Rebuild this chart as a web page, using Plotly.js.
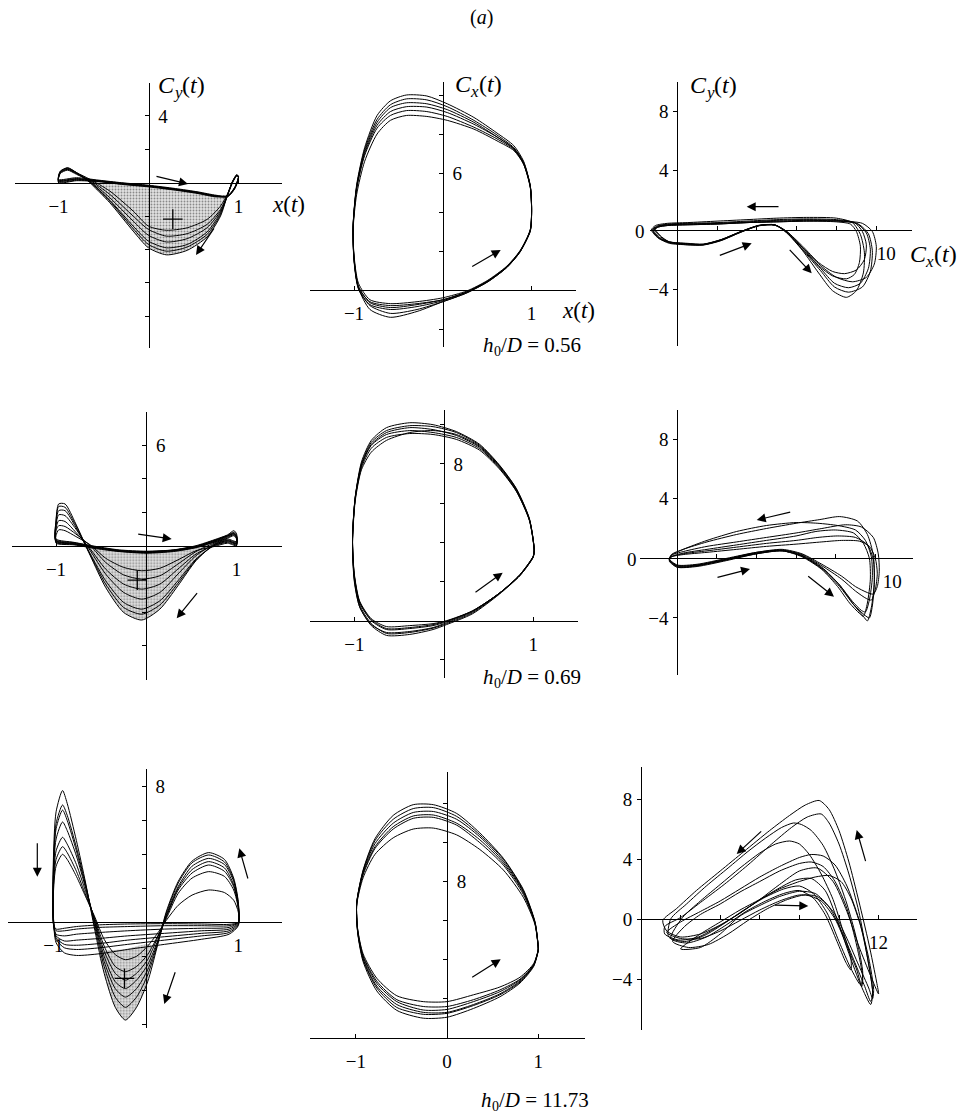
<!DOCTYPE html>
<html><head><meta charset="utf-8">
<script src="https://cdn.plot.ly/plotly-3.0.1.min.js"></script>
<style>html,body{margin:0;padding:0;background:#fff;}#chart{width:959px;height:1115px;}</style>
</head><body><div id="chart"></div>
<script>
// ================= DATA =================
// Row 1 (h0/D = 0.56) — panel 1: Cy(t) vs x(t)
const p1X = [-1.0,-0.8,-0.55,-0.3,0.0,0.3,0.55,0.75,0.88,0.96,1.0,0.98,0.93,0.88,0.8,0.65,0.43,0.2,0.0,-0.17,-0.43,-0.65,-0.8,-0.9,-0.98,-1.0];
const p1Y = [
 [0.1,0.2,0.1,-0.05,-0.2,-0.4,-0.6,-0.8,-0.8,-0.3,0.35,0.45,0.0,-0.7,-2.0,-3.25,-4.05,-4.32,-3.9,-2.9,-1.2,0.0,0.6,0.9,0.65,0.1],
 [0.05,0.15,0.08,-0.08,-0.22,-0.42,-0.62,-0.82,-0.78,-0.25,0.4,0.42,-0.05,-0.75,-1.8,-2.95,-3.7,-3.9,-3.5,-2.6,-1.05,0.05,0.55,0.8,0.6,0.05],
 [0.15,0.25,0.12,-0.02,-0.18,-0.38,-0.58,-0.78,-0.82,-0.35,0.3,0.4,0.0,-0.72,-1.7,-2.7,-3.35,-3.55,-3.15,-2.3,-0.9,0.1,0.5,0.75,0.55,0.15],
 [0.0,0.12,0.06,-0.1,-0.25,-0.45,-0.65,-0.85,-0.8,-0.3,0.38,0.48,0.05,-0.7,-1.6,-2.5,-3.05,-3.2,-2.8,-2.0,-0.7,0.15,0.55,0.8,0.6,0.0],
 [0.2,0.3,0.15,0.0,-0.15,-0.35,-0.55,-0.75,-0.8,-0.28,0.32,0.44,0.02,-0.65,-1.4,-2.2,-2.7,-2.85,-2.6,-1.7,-0.5,0.2,0.6,0.85,0.7,0.2],
 [0.12,0.22,0.1,-0.04,-0.2,-0.4,-0.6,-0.8,-0.85,-0.32,0.36,0.46,0.02,-0.68,-1.9,-3.1,-3.85,-4.1,-3.7,-2.75,-1.1,0.05,0.6,0.88,0.66,0.12]
];
const p1ShadeX = [-0.65,-0.55,-0.3,0.0,0.3,0.55,0.75,0.86,0.8,0.65,0.43,0.2,0.0,-0.17,-0.43,-0.65];
const p1ShadeY = [0.0,0.05,-0.08,-0.22,-0.42,-0.62,-0.82,-0.75,-2.0,-3.25,-4.05,-4.32,-3.9,-2.9,-1.2,0.0];

// panel 2: Cx(t) vs x(t)
const p2X = [1.0,0.985,0.91,0.8,0.61,0.35,0.05,-0.18,-0.41,-0.59,-0.74,-0.88,-0.97,-1.01,-1.0,-0.95,-0.82,-0.59,-0.29,0.0,0.27,0.5,0.72,0.87,0.985,1.0];
const p2Y = [
 [4.1,5.35,6.6,7.4,8.05,8.85,9.55,9.95,10.0,9.7,8.95,7.3,5.4,3.3,1.6,0.1,-1.0,-1.4,-1.1,-0.6,-0.15,0.4,1.15,1.95,3.05,4.1],
 [4.0,5.25,6.45,7.25,7.85,8.6,9.25,9.55,9.6,9.35,8.6,7.1,5.3,3.3,1.7,0.2,-0.65,-0.9,-0.75,-0.5,-0.1,0.45,1.2,2.0,3.0,4.0],
 [4.2,5.35,6.5,7.2,7.75,8.35,8.9,9.15,9.2,8.95,8.3,6.9,5.2,3.3,1.8,0.35,-0.5,-0.7,-0.6,-0.4,-0.05,0.48,1.22,2.02,3.1,4.2],
 [4.1,5.3,6.45,7.15,7.65,8.25,8.7,8.9,8.95,8.7,8.0,6.6,4.9,3.1,1.5,0.05,-0.75,-1.0,-0.85,-0.55,-0.1,0.4,1.15,1.95,3.05,4.1],
 [4.05,5.3,6.55,7.3,7.95,8.7,9.4,9.75,9.8,9.5,8.75,7.2,5.3,3.2,1.6,0.15,-0.6,-0.8,-0.7,-0.5,-0.1,0.44,1.18,1.98,3.08,4.05],
 [4.1,5.3,6.5,7.25,7.85,8.5,9.1,9.38,9.4,9.15,8.45,7.0,5.2,3.2,1.6,0.1,-0.8,-1.2,-1.0,-0.6,-0.15,0.42,1.16,1.97,3.06,4.1]
];

// panel 3: Cy(t) vs Cx(t)
const p3X = [
 [-1.3,-1.0,-0.4,0.5,1.3,2.2,3.2,4.1,4.9,5.5,6.3,7.1,7.8,8.5,9.0,9.35,9.4,9.2,8.8,8.0,6.5,5.0,3.5,2.0,0.5,-0.5,-1.1,-1.3],
 [-1.2,-0.9,-0.4,0.5,1.3,2.2,3.2,4.1,4.9,5.5,6.3,7.2,7.9,8.6,9.2,9.6,9.7,9.5,9.0,8.0,6.5,5.0,3.5,2.0,0.5,-0.5,-1.0,-1.2],
 [-1.1,-0.8,-0.4,0.5,1.3,2.2,3.2,4.1,4.9,5.5,6.3,7.2,8.0,8.8,9.5,9.9,10.0,9.8,9.3,8.2,6.5,5.0,3.5,2.0,0.5,-0.5,-0.95,-1.1],
 [-1.2,-0.9,-0.4,0.5,1.3,2.2,3.2,4.1,4.9,5.5,6.3,7.1,7.8,8.4,9.0,9.4,9.5,9.3,8.9,8.0,6.5,5.0,3.5,2.0,0.5,-0.5,-1.0,-1.2],
 [-1.25,-0.95,-0.4,0.5,1.3,2.2,3.2,4.1,4.9,5.5,6.3,7.2,7.9,8.6,9.3,9.7,9.8,9.6,9.1,8.1,6.5,5.0,3.5,2.0,0.5,-0.5,-1.05,-1.25],
 [-1.15,-0.85,-0.4,0.5,1.3,2.2,3.2,4.1,4.9,5.5,6.3,7.1,7.8,8.5,8.9,9.15,9.2,9.0,8.7,8.0,6.5,5.0,3.5,2.0,0.5,-0.5,-0.95,-1.15]
];
const p3Y = [
 [0.0,-0.5,-0.85,-1.0,-1.0,-0.7,-0.15,0.3,0.35,-0.2,-1.4,-2.9,-4.1,-4.55,-4.1,-2.9,-1.5,-0.3,0.5,0.8,0.85,0.8,0.7,0.6,0.5,0.45,0.3,0.0],
 [-0.1,-0.55,-0.85,-0.95,-1.0,-0.68,-0.12,0.3,0.35,-0.15,-1.3,-2.6,-3.6,-3.9,-3.6,-2.6,-1.3,-0.2,0.45,0.65,0.7,0.65,0.55,0.45,0.4,0.35,0.2,-0.1],
 [0.05,-0.45,-0.8,-0.95,-0.98,-0.65,-0.1,0.3,0.32,-0.1,-1.2,-2.4,-3.2,-3.5,-3.2,-2.3,-1.1,-0.1,0.45,0.6,0.6,0.55,0.5,0.4,0.35,0.3,0.2,0.05],
 [0.0,-0.5,-0.8,-0.9,-0.95,-0.65,-0.1,0.32,0.35,-0.1,-1.1,-2.2,-2.8,-2.95,-2.7,-2.0,-1.0,-0.1,0.5,0.7,0.75,0.7,0.6,0.5,0.45,0.4,0.25,0.0],
 [0.0,-0.55,-0.9,-1.0,-1.02,-0.72,-0.14,0.28,0.34,-0.18,-1.35,-2.75,-3.85,-4.2,-3.85,-2.8,-1.4,-0.25,0.4,0.6,0.65,0.6,0.5,0.45,0.4,0.35,0.25,0.0],
 [0.05,-0.45,-0.8,-0.92,-0.97,-0.66,-0.12,0.3,0.33,-0.12,-1.2,-2.4,-3.1,-3.3,-3.0,-2.2,-1.1,-0.1,0.4,0.55,0.6,0.55,0.5,0.4,0.35,0.3,0.2,0.05]
];

// Row 2 (h0/D = 0.69) — panel 4: Cy(t) vs x(t)
const p4X = [-1.0,-0.8,-0.55,-0.3,0.0,0.3,0.55,0.75,0.9,0.97,1.0,1.0,0.9,0.75,0.55,0.35,0.15,-0.05,-0.25,-0.45,-0.62,-0.78,-0.9,-0.97,-1.0,-1.0];
const p4Y = [
 [0.3,0.15,-0.1,-0.3,-0.38,-0.28,-0.05,0.3,0.6,0.75,0.55,0.15,0.3,0.05,-0.9,-2.4,-3.8,-4.45,-4.0,-2.5,-0.6,1.3,2.5,2.5,1.5,0.3],
 [0.25,0.1,-0.12,-0.32,-0.4,-0.3,-0.08,0.25,0.55,0.7,0.5,0.1,0.25,0.0,-0.8,-2.1,-3.3,-3.8,-3.4,-2.1,-0.5,1.1,2.1,2.1,1.3,0.25],
 [0.35,0.18,-0.08,-0.28,-0.35,-0.26,-0.03,0.32,0.62,0.8,0.6,0.2,0.35,0.1,-0.6,-1.7,-2.8,-3.2,-2.8,-1.7,-0.3,1.0,1.8,1.85,1.2,0.35],
 [0.2,0.08,-0.15,-0.33,-0.42,-0.32,-0.1,0.22,0.5,0.65,0.45,0.05,0.2,0.0,-0.5,-1.4,-2.3,-2.6,-2.3,-1.4,-0.2,0.8,1.45,1.5,1.0,0.2],
 [0.4,0.2,-0.05,-0.25,-0.33,-0.25,0.0,0.35,0.65,0.9,0.7,0.25,0.4,0.15,-0.35,-1.1,-1.8,-2.0,-1.75,-1.0,0.0,0.7,1.15,1.2,0.9,0.4],
 [0.15,0.05,-0.18,-0.35,-0.45,-0.35,-0.12,0.2,0.45,0.6,0.4,0.0,0.15,-0.05,-0.3,-0.85,-1.35,-1.5,-1.3,-0.75,0.05,0.55,0.9,0.95,0.6,0.15],
 [0.3,0.12,-0.1,-0.3,-0.37,-0.27,-0.05,0.28,0.58,0.72,0.52,0.12,0.3,0.05,-0.85,-2.25,-3.55,-4.1,-3.7,-2.3,-0.55,1.2,2.3,2.35,1.45,0.3]
];
const p4ShadeX = [-0.68,-0.55,-0.3,0.0,0.3,0.55,0.7,0.55,0.35,0.15,-0.05,-0.25,-0.45,-0.62,-0.68];
const p4ShadeY = [0.0,-0.1,-0.3,-0.38,-0.28,-0.05,0.05,-0.9,-2.4,-3.8,-4.45,-4.0,-2.5,-0.6,0.0];

// panel 5: Cx(t) vs x(t)
const p5X = [1.01,0.957,0.81,0.62,0.40,0.14,-0.12,-0.38,-0.64,-0.81,-0.92,-0.99,-1.02,-1.0,-0.94,-0.81,-0.64,-0.38,-0.12,0.03,0.32,0.62,0.85,1.0,1.01];
const p5Y = [
 [3.6,5.2,6.75,7.95,9.0,9.65,10.0,10.1,9.85,9.2,8.1,6.3,4.0,2.1,0.7,-0.25,-0.75,-0.7,-0.45,-0.2,0.35,1.35,2.3,3.25,3.6],
 [3.65,5.15,6.65,7.85,8.85,9.45,9.75,9.85,9.6,9.0,7.95,6.3,4.2,2.3,0.95,0.0,-0.45,-0.4,-0.25,-0.05,0.5,1.4,2.35,3.3,3.65],
 [3.55,5.1,6.6,7.75,8.7,9.25,9.5,9.55,9.35,8.8,7.8,6.2,4.2,2.4,1.0,0.1,-0.3,-0.25,-0.15,0.0,0.5,1.4,2.3,3.25,3.55],
 [3.6,5.15,6.7,7.9,8.9,9.5,9.7,9.6,9.2,8.6,7.7,6.1,3.9,2.0,0.7,-0.2,-0.6,-0.55,-0.35,-0.1,0.45,1.4,2.35,3.3,3.6],
 [3.62,5.18,6.72,7.92,8.95,9.6,9.9,9.95,9.7,9.1,8.0,6.25,4.05,2.2,0.8,-0.15,-0.65,-0.6,-0.38,-0.15,0.4,1.38,2.32,3.28,3.62],
 [3.58,5.12,6.62,7.8,8.78,9.35,9.6,9.7,9.5,8.95,7.9,6.25,4.15,2.3,0.9,0.05,-0.4,-0.35,-0.2,-0.02,0.48,1.4,2.32,3.27,3.58]
];

// panel 6: Cy(t) vs Cx(t)
const p6X = [
 [-0.4,0.0,1.0,2.5,4.0,5.3,6.3,7.3,8.2,8.9,9.4,9.6,9.8,9.95,9.9,9.6,9.1,8.2,7.2,6.0,4.5,3.0,1.5,0.3,-0.3,-0.4],
 [-0.4,0.0,1.0,2.5,4.0,5.3,6.3,7.3,8.2,8.85,9.3,9.5,9.7,9.85,9.8,9.5,9.0,8.1,7.1,6.0,4.5,3.0,1.5,0.3,-0.3,-0.4],
 [-0.4,0.0,1.0,2.5,4.0,5.3,6.3,7.3,8.3,9.0,9.6,9.9,10.1,10.2,10.15,9.9,9.3,8.5,7.3,6.0,4.5,3.0,1.5,0.3,-0.3,-0.4],
 [-0.4,0.0,1.0,2.5,4.0,5.3,6.3,7.3,8.1,8.7,9.2,9.4,9.6,9.75,9.7,9.4,8.9,8.0,7.0,6.0,4.5,3.0,1.5,0.3,-0.3,-0.4],
 [-0.4,0.0,1.0,2.5,4.0,5.3,6.3,7.3,8.3,9.0,9.55,9.8,10.0,10.1,10.0,9.7,9.2,8.3,7.3,6.0,4.5,3.0,1.5,0.3,-0.3,-0.4],
 [-0.4,0.0,1.0,2.5,4.0,5.3,6.3,7.3,8.2,8.9,9.45,9.7,9.85,9.95,9.9,9.6,9.0,8.1,7.1,6.0,4.5,3.0,1.5,0.3,-0.3,-0.4]
];
const p6Y = [
 [-0.1,-0.55,-0.5,-0.1,0.35,0.55,0.2,-0.6,-1.8,-3.1,-3.9,-4.2,-3.3,-1.6,0.2,1.6,2.5,2.8,2.6,2.35,2.0,1.6,1.1,0.6,0.25,-0.1],
 [-0.15,-0.6,-0.5,-0.1,0.3,0.5,0.15,-0.65,-1.8,-2.9,-3.5,-3.6,-2.8,-1.3,0.1,1.2,1.9,2.2,2.35,2.4,2.2,1.8,1.2,0.6,0.2,-0.15],
 [-0.1,-0.5,-0.45,-0.05,0.4,0.6,0.3,-0.4,-1.2,-1.9,-2.3,-2.4,-1.9,-0.9,0.3,1.4,2.1,2.25,2.0,1.7,1.4,1.1,0.8,0.45,0.2,-0.1],
 [-0.2,-0.6,-0.55,-0.15,0.3,0.5,0.1,-0.75,-1.9,-3.0,-3.7,-3.9,-3.0,-1.4,0.0,1.0,1.7,1.9,1.8,1.5,1.2,0.9,0.6,0.35,0.1,-0.2],
 [-0.05,-0.45,-0.4,0.0,0.4,0.55,0.25,-0.5,-1.4,-2.2,-2.7,-2.8,-2.1,-1.0,0.0,0.8,1.15,1.2,1.1,0.95,0.8,0.6,0.4,0.25,0.1,-0.05],
 [-0.1,-0.5,-0.45,-0.05,0.35,0.5,0.15,-0.7,-1.9,-3.1,-3.8,-4.0,-3.2,-1.6,-0.1,0.9,1.4,1.5,1.4,1.2,1.0,0.75,0.5,0.3,0.1,-0.1]
];

// Row 3 (h0/D = 11.73) — panel 7: Cy(t) vs x(t)
const p7X = [-0.9,-0.97,-1.0,-1.0,-0.97,-0.88,-0.75,-0.5,-0.2,0.2,0.6,0.9,1.0,1.0,0.95,0.85,0.68,0.5,0.35,0.22,0.12,0.02,-0.1,-0.22,-0.33,-0.45,-0.55,-0.65,-0.75,-0.85,-0.9];
const p7Y = [
 [7.75,6.5,3.5,0.5,-1.2,-1.8,-1.95,-1.85,-1.6,-1.3,-1.0,-0.7,-0.2,1.2,2.6,3.7,4.1,3.6,2.4,0.6,-1.5,-3.5,-5.0,-5.75,-5.0,-3.0,-0.5,2.3,4.8,7.0,7.75],
 [6.9,5.8,3.0,0.4,-1.0,-1.5,-1.6,-1.5,-1.3,-1.05,-0.8,-0.6,-0.15,1.1,2.5,3.55,3.96,3.5,2.3,0.5,-1.4,-3.1,-4.4,-5.0,-4.4,-2.6,-0.3,2.2,4.4,6.3,6.9],
 [6.6,5.5,2.8,0.3,-0.9,-1.3,-1.35,-1.25,-1.05,-0.85,-0.65,-0.5,-0.1,1.0,2.4,3.4,3.76,3.3,2.1,0.4,-1.3,-2.8,-3.9,-4.4,-3.9,-2.3,-0.1,2.1,4.2,6.0,6.6],
 [5.9,4.9,2.5,0.2,-0.8,-1.1,-1.05,-0.95,-0.8,-0.65,-0.5,-0.4,-0.05,0.9,2.2,3.2,3.57,3.1,2.0,0.3,-1.2,-2.5,-3.4,-3.9,-3.5,-2.0,0.0,2.0,3.9,5.4,5.9],
 [5.0,4.2,2.2,0.1,-0.7,-0.8,-0.7,-0.6,-0.5,-0.4,-0.35,-0.3,0.0,0.9,2.1,3.0,3.37,2.9,1.9,0.3,-1.0,-2.2,-3.0,-3.4,-3.0,-1.7,0.1,1.8,3.4,4.6,5.0],
 [4.45,3.7,1.9,0.0,-0.5,-0.5,-0.4,-0.3,-0.25,-0.2,-0.2,-0.2,0.0,0.8,1.9,2.7,2.98,2.6,1.7,0.2,-0.9,-1.9,-2.6,-2.9,-2.6,-1.4,0.2,1.6,3.0,4.1,4.45],
 [4.0,3.3,1.6,-0.1,-0.4,-0.35,-0.25,-0.15,-0.1,-0.08,-0.1,-0.12,0.0,0.6,1.3,1.75,1.9,1.6,1.0,0.1,-0.7,-1.4,-2.0,-2.2,-1.9,-1.0,0.3,1.5,2.7,3.7,4.0]
];
const p7ShadeX = [-0.5,-0.2,0.05,0.02,-0.1,-0.22,-0.33,-0.45,-0.5];
const p7ShadeY = [-1.8,-1.55,-1.3,-3.5,-5.0,-5.75,-5.0,-3.0,-1.8];

// panel 8: Cx(t) vs x(t)
const p8X = [1.0,0.965,0.837,0.618,0.36,0.106,-0.15,-0.37,-0.59,-0.79,-0.92,-0.99,-0.98,-0.92,-0.77,-0.55,-0.26,0.0,0.29,0.58,0.8,0.95,1.0,1.0];
const p8Y = [
 [4.67,5.95,7.6,9.2,10.5,11.5,11.95,11.95,11.4,10.2,8.6,6.9,5.4,3.9,2.4,1.4,1.0,1.05,1.5,2.1,2.8,3.65,4.45,4.67],
 [4.7,5.9,7.5,9.05,10.3,11.2,11.6,11.55,11.0,9.95,8.5,6.9,5.45,4.05,2.65,1.7,1.3,1.3,1.7,2.25,2.9,3.7,4.5,4.7],
 [4.65,5.85,7.35,8.85,10.0,10.9,11.3,11.25,10.7,9.7,8.35,6.85,5.55,4.2,2.9,1.95,1.6,1.6,1.95,2.45,3.0,3.75,4.5,4.65],
 [4.6,5.8,7.2,8.6,9.65,10.4,10.75,10.7,10.25,9.4,8.2,6.8,5.6,4.3,3.05,2.15,1.85,1.85,2.2,2.6,3.1,3.8,4.5,4.6],
 [4.68,5.9,7.55,9.15,10.4,11.35,11.8,11.75,11.2,10.1,8.55,6.9,5.45,4.0,2.55,1.55,1.2,1.25,1.65,2.2,2.85,3.7,4.48,4.68],
 [4.66,5.88,7.45,8.95,10.15,11.0,11.42,11.37,10.82,9.79,8.43,6.89,5.52,4.15,2.79,1.85,1.42,1.45,1.85,2.36,2.96,3.73,4.5,4.66]
];

// panel 9: Cy(t) vs Cx(t)
const p9X = [
 [1.3,2.0,3.0,4.0,5.0,6.0,7.0,8.0,8.9,9.7,10.4,11.0,11.6,12.0,11.9,11.5,11.0,10.5,10.0,9.5,9.0,8.3,7.5,6.5,5.2,4.0,2.8,1.8,1.1,1.3],
 [1.2,1.9,2.9,3.9,4.9,5.9,6.9,7.8,8.6,9.3,9.9,10.5,11.1,11.6,11.7,11.4,11.0,10.5,10.0,9.5,9.1,8.4,7.6,6.6,5.4,4.2,3.0,2.0,1.2,1.2],
 [1.4,2.2,3.2,4.2,5.2,6.2,7.2,8.0,8.7,9.4,10.0,10.6,11.1,11.2,10.9,10.4,9.8,9.2,8.6,8.1,7.7,7.1,6.3,5.4,4.4,3.3,2.3,1.5,1.4],
 [1.5,2.3,3.3,4.3,5.3,6.3,7.2,8.0,8.7,9.3,9.9,10.35,10.6,10.6,10.2,9.7,9.1,8.5,8.0,7.5,6.8,6.0,5.0,4.0,3.0,2.1,1.5],
 [1.3,2.0,3.0,4.0,5.0,6.0,7.0,8.0,8.9,9.7,10.4,11.0,11.5,11.7,11.75,11.5,11.0,10.4,9.8,9.2,8.6,8.0,7.0,6.0,5.0,4.0,3.0,2.0,1.3],
 [1.6,2.4,3.4,4.4,5.4,6.4,7.4,8.3,9.1,9.8,10.4,10.9,11.15,11.2,10.9,10.4,9.8,9.2,8.6,8.0,7.0,6.0,5.0,4.0,3.0,2.2,1.6],
 [2.0,3.0,4.0,5.0,6.0,7.0,8.0,8.8,9.5,10.2,10.8,11.3,11.6,11.7,11.5,11.1,10.6,10.1,9.5,8.8,8.0,7.0,6.0,5.0,4.0,3.0,2.0]
];
const p9Y = [
 [-0.8,-1.2,-1.0,-0.4,0.4,1.3,2.3,3.2,3.4,2.5,0.5,-1.8,-3.8,-5.0,-4.2,-1.6,1.2,3.8,5.9,7.3,7.9,7.6,6.9,5.9,4.5,3.2,1.9,0.7,-0.1,-0.8],
 [-1.0,-1.4,-1.2,-0.5,0.3,1.2,2.0,2.6,2.7,1.9,0.0,-2.3,-4.4,-5.7,-4.9,-2.3,0.5,3.0,5.0,6.4,7.0,6.8,6.1,5.0,3.6,2.3,1.1,0.1,-0.5,-1.0],
 [-1.2,-1.5,-1.1,-0.3,0.6,1.4,2.0,2.2,1.7,0.4,-1.5,-3.3,-4.4,-3.6,-1.4,1.0,3.2,4.9,5.9,6.3,6.4,6.1,5.4,4.5,3.4,2.2,1.0,0.0,-1.2],
 [-1.3,-1.6,-1.2,-0.4,0.5,1.2,1.7,1.9,1.4,0.3,-1.5,-2.9,-3.4,-2.6,-0.8,1.3,3.0,4.3,5.0,5.2,5.0,4.4,3.4,2.3,1.2,0.1,-1.3],
 [-0.9,-1.3,-1.3,-0.8,-0.1,0.6,1.2,1.6,1.5,0.5,-1.3,-3.1,-4.6,-5.3,-4.7,-2.6,0.0,2.2,3.6,4.2,4.3,4.1,3.5,2.8,2.0,1.2,0.5,-0.2,-0.9],
 [-1.5,-1.9,-1.7,-1.0,-0.1,0.7,1.3,1.6,1.2,0.0,-1.8,-3.4,-4.5,-3.9,-1.8,0.7,2.5,3.5,3.8,3.7,3.2,2.5,1.8,1.0,0.3,-0.5,-1.5],
 [-2.0,-1.9,-1.0,0.2,0.9,1.5,1.85,1.7,0.8,-1.0,-2.9,-4.5,-5.5,-5.0,-3.0,-0.5,1.4,2.5,2.9,2.8,2.5,2.0,1.3,0.6,-0.2,-1.0,-2.0]
];

// "+" centroid marks (panels 1, 4, 7)
const crossPanels = [1, 4, 7];
const crossX = [0.27, -0.1, -0.23];
const crossY = [-2.18, -2.06, -3.3];

// tick values: labelled (major) and unlabelled (minor)
const ticks = [
 {xt:[-1,1], xl:['−1','1'], xm:[],          yt:[4],  yl:['4'],  ym:[-8,-6,-4,-2,2]},
 {xt:[-1,1], xl:['−1','1'], xm:[],          yt:[6],  yl:['6'],  ym:[-2,2,4,8,10]},
 {xt:[10],   xl:['10'],     xm:[2,4,6,8],   yt:[-4,4,8], yl:['−4','4','8'], ym:[]},
 {xt:[-1,1], xl:['−1','1'], xm:[],          yt:[6],  yl:['6'],  ym:[-6,-4,-2,2,4]},
 {xt:[-1,1], xl:['−1','1'], xm:[],          yt:[8],  yl:['8'],  ym:[-2,2,4,6,10]},
 {xt:[10],   xl:['10'],     xm:[2,4,6,8],   yt:[-4,4,8], yl:['−4','4','8'], ym:[]},
 {xt:[-1,1], xl:['−1','1'], xm:[],          yt:[8],  yl:['8'],  ym:[-6,-4,-2,2,4,6]},
 {xt:[-1,0,1], xl:['−1','0','1'], xm:[],    yt:[8],  yl:['8'],  ym:[2,4,6,10,12]},
 {xt:[12],   xl:['12'],     xm:[2,4,6,8,10], yt:[-4,0,4,8], yl:['−4','0','4','8'], ym:[]}
];

// ================= LAYOUT (pixel frames of each panel) =================
const W = 959, H = 1115;
const SERIF = 'Liberation Serif, Times New Roman, serif';
const INK = '#000000';
const frames = [
 {ox:148.5, sx:90,   oy:182.7,  sy:16.7, L:15,   R:282,   T:83,    B:348,    yside:'right'},
 {ox:442.8, sx:88.8, oy:290,    sy:19.5, L:310,  R:576,   T:81.7,  B:346.7,  yside:'right'},
 {ox:677.3, sx:19.9, oy:230,    sy:14.8, L:650,  R:911.7, T:81.7,  B:346,    yside:'left', xshift:10},
 {ox:146.3, sx:90.3, oy:545.7,  sy:16.7, L:11.7, R:281.7, T:411.7, B:680,    yside:'right'},
 {ox:443.8, sx:89.5, oy:620.7,  sy:19.6, L:310,  R:578.3, T:410,   B:678,    yside:'right'},
 {ox:677.3, sx:19.8, oy:558.3,  sy:14.9, L:640,  R:913.3, T:410,   B:675,    yside:'left', xshift:17},
 {ox:145.8, sx:92.5, oy:922.3,  sy:17,   L:8.3,  R:281.7, T:769.3, B:1028,   yside:'right'},
 {ox:447,   sx:91.2, oy:1037.7, sy:19.5, L:310,  R:585,   T:771.7, B:1037.7, yside:'right'},
 {ox:641,   sx:19.8, oy:919,    sy:15,   L:641,  R:916.7, T:767.3, B:1030,   yside:'left'}
];
const px = v => v / W, py = v => 1 - v / H;
const clamp = v => Math.min(1, Math.max(0, v));

const layout = {
  width: W, height: H, margin: {l:0, r:0, t:0, b:0},
  paper_bgcolor: '#fff', plot_bgcolor: 'rgba(0,0,0,0)', showlegend: false,
  font: {family: SERIF, color: INK}, annotations: []
};
frames.forEach((f, i) => {
  const s = i === 0 ? '' : String(i + 1);
  const t = ticks[i];
  const ytk = f.yside === 'right' ? 'inside' : 'outside';
  layout['xaxis' + s] = {
    domain: [px(f.L), px(f.R)],
    range: [(f.L - f.ox) / f.sx, (f.R - f.ox) / f.sx],
    anchor: 'free', position: clamp(py(f.oy)), side: 'bottom',
    showline: true, linecolor: INK, linewidth: 1, showgrid: false, zeroline: false,
    ticks: 'inside', ticklen: 4, tickwidth: 1, tickcolor: INK,
    tickmode: 'array', tickvals: t.xt, ticktext: t.xl,
    minor: {tickmode: 'array', tickvals: t.xm, ticks: 'inside', ticklen: 4, tickwidth: 1, tickcolor: INK, showgrid: false},
    tickfont: {family: SERIF, size: 19, color: INK},
    ticklabelstandoff: 6, ticklabelshift: f.xshift || 0,
    fixedrange: true, automargin: false
  };
  layout['yaxis' + s] = {
    domain: [py(f.B), py(f.T)],
    range: [(f.oy - f.B) / f.sy, (f.oy - f.T) / f.sy],
    anchor: 'free', position: clamp(px(f.ox)), side: f.yside,
    showline: true, linecolor: INK, linewidth: 1, showgrid: false, zeroline: false,
    ticks: ytk, ticklen: 4, tickwidth: 1, tickcolor: INK,
    tickmode: 'array', tickvals: t.yt, ticktext: t.yl,
    minor: {tickmode: 'array', tickvals: t.ym, ticks: ytk, ticklen: 4, tickwidth: 1, tickcolor: INK, showgrid: false},
    tickfont: {family: SERIF, size: 19, color: INK},
    ticklabelstandoff: f.yside === 'right' ? 5 : 1,
    fixedrange: true, automargin: false
  };
});

// ================= TRACES =================
const traces = [];
const ax = n => (n === 1 ? '' : String(n));
function shade(n, xs, ys) {
  traces.push({type:'scatter', mode:'lines', x: xs, y: ys, xaxis:'x'+ax(n), yaxis:'y'+ax(n),
    fill:'toself', fillcolor:'#dddddd',
    fillpattern:{shape:'.', size:3, solidity:0.3, fgcolor:'#8a8a8a', bgcolor:'#e2e2e2'},
    line:{width:0, shape:'spline', smoothing:0.6, color:'rgba(0,0,0,0)'}, hoverinfo:'skip'});
}
function loops(n, X, Y) {
  Y.forEach((yc, k) => {
    const xc = Array.isArray(X[0]) ? X[k] : X;
    traces.push({type:'scatter', mode:'lines', x: xc, y: yc, xaxis:'x'+ax(n), yaxis:'y'+ax(n),
      line:{color: INK, width: 1.0, shape:'spline', smoothing:0.7}, hoverinfo:'skip'});
  });
}
shade(1, p1ShadeX, p1ShadeY);
shade(4, p4ShadeX, p4ShadeY);
shade(7, p7ShadeX, p7ShadeY);
loops(1, p1X, p1Y); loops(2, p2X, p2Y); loops(3, p3X, p3Y);
loops(4, p4X, p4Y); loops(5, p5X, p5Y); loops(6, p6X, p6Y);
loops(7, p7X, p7Y); loops(8, p8X, p8Y); loops(9, p9X, p9Y);
crossPanels.forEach((n, k) => {
  traces.push({type:'scatter', mode:'markers', x:[crossX[k]], y:[crossY[k]], xaxis:'x'+ax(n), yaxis:'y'+ax(n),
    marker:{symbol:'cross-thin', size:14, line:{width:1.3, color:INK}, color:INK}, hoverinfo:'skip'});
});

// ================= TEXT & ARROWS =================
const it = s => '<i>' + s + '</i>';
function note(text, x, y, size, xanchor) {
  layout.annotations.push({xref:'paper', yref:'paper', x: px(x), y: py(y),
    xanchor: xanchor || 'center', yanchor:'middle', text, showarrow:false, borderpad:0,
    font:{family:SERIF, size, color:INK}});
}
// C_sub(t) label: left edge bx of the C, vertical centre by
function coefLabel(sub, bx, by) {
  const S = 24, s = 17;
  note(it('C'), bx, by, S, 'left');
  note(it(sub), bx + 0.64 * S, by + 8, s, 'left');
  note('(' + it('t') + ')', bx + 0.64 * S + 0.48 * s, by, S, 'left');
}
// h_0/D = v label: left edge bx, vertical centre by
function hdLabel(v, bx, by) {
  const S = 21, s = 14;
  note(it('h'), bx, by, S, 'left');
  note('0', bx + 0.5 * S, by + 6, s, 'left');
  note('/' + it('D') + ' = ' + v, bx + 0.5 * S + 0.5 * s, by, S, 'left');
}
note('(' + it('a') + ')', 481, 18, 20);
coefLabel('y', 157, 85);
note(it('x') + '(' + it('t') + ')', 288, 205, 23);
coefLabel('x', 454, 84);
note(it('x') + '(' + it('t') + ')', 578, 310, 23);
hdLabel('0.56', 482, 345);
coefLabel('y', 689, 85);
coefLabel('x', 909, 254);
note('0', 640, 231, 19);
hdLabel('0.69', 482, 677);
note('0', 632, 559, 19);
hdLabel('11.73', 480, 1100);

const arrows = [ // [tailX, tailY, headX, headY] in pixels
 [155,176,188,184],[215,227,196,255],
 [470.7,267.3,500.7,250],
 [780,206.7,746.7,206.7],[718.3,256,751.7,243.3],[788.3,248.3,811.7,273.3],
 [136.7,534,171.7,539],[198.3,591.7,176.7,618.3],
 [474,593.3,502.7,572.7],
 [791.7,511.7,756.7,520],[716,577.7,750,569],[806.7,575,834,596.7],
 [37.3,841.7,37.3,876.7],[248.3,880,239.3,848.3],[175.7,970.7,164.3,1004],
 [470.7,978.3,500.7,959.3],
 [762.7,830,736.7,854],[773.3,905,808.3,906],[866,862.7,856.7,830]
];
arrows.forEach(([tx, ty, hx, hy]) => layout.annotations.push({
  xref:'paper', yref:'paper', x: px(hx), y: py(hy), ax: tx - hx, ay: ty - hy,
  text:'', showarrow:true, arrowhead:2, arrowsize:1.5, arrowwidth:1.2, arrowcolor:INK,
  standoff:0, startstandoff:0
}));

Plotly.newPlot('chart', traces, layout, {staticPlot:true, displayModeBar:false});
</script></body></html>
